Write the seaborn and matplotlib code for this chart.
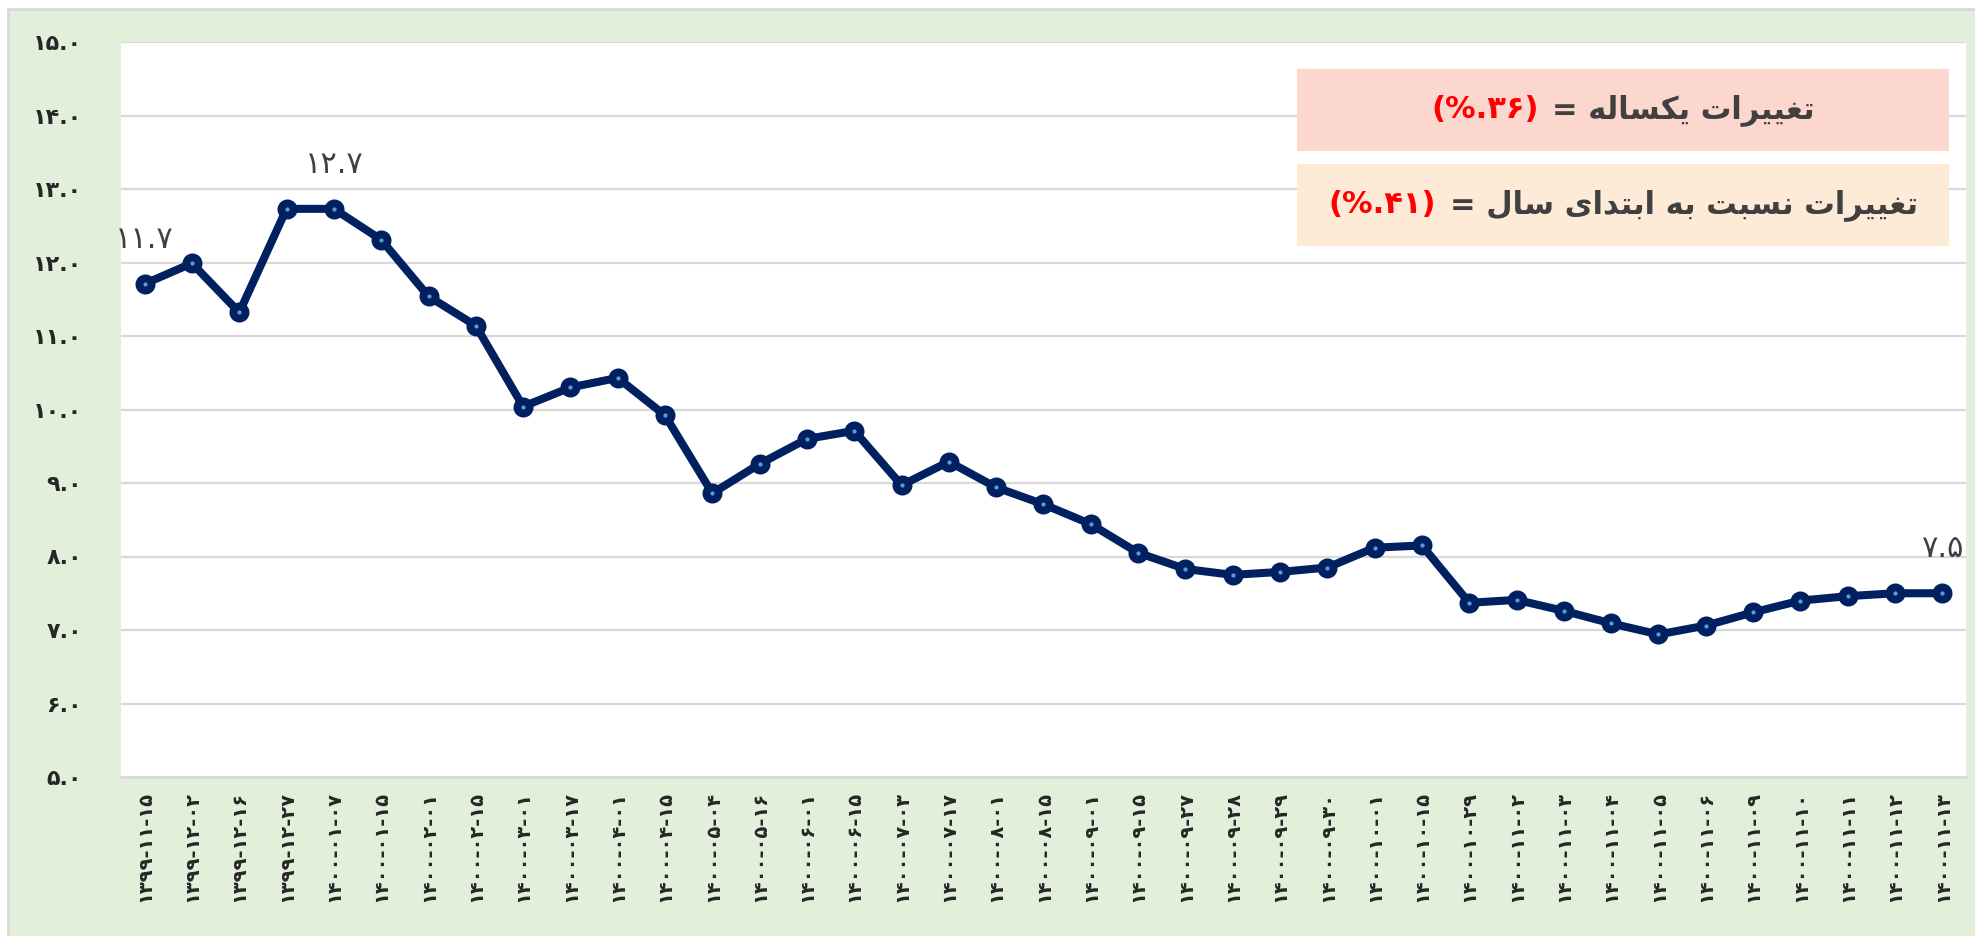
import numpy as np
import pandas as pd
import seaborn as sns
import matplotlib.pyplot as plt
from matplotlib.patches import Rectangle
from matplotlib.offsetbox import TextArea, HPacker, AnnotationBbox

# dates (jalali) and values
dates = ['1399-11-15', '1399-12-02', '1399-12-16', '1399-12-27', '1400-01-07',
         '1400-01-15', '1400-02-01', '1400-02-15', '1400-03-01', '1400-03-17',
         '1400-04-01', '1400-04-15', '1400-05-04', '1400-05-16', '1400-06-01',
         '1400-06-15', '1400-07-03', '1400-07-17', '1400-08-01', '1400-08-15',
         '1400-09-01', '1400-09-15', '1400-09-27', '1400-09-28', '1400-09-29',
         '1400-09-30', '1400-10-01', '1400-10-15', '1400-10-29', '1400-11-02',
         '1400-11-03', '1400-11-04', '1400-11-05', '1400-11-06', '1400-11-09',
         '1400-11-10', '1400-11-11', '1400-11-12', '1400-11-13']
values = [11.71, 11.99, 11.32, 12.73, 12.73, 12.31, 11.54, 11.14, 10.04, 10.30,
          10.43, 9.92, 8.86, 9.26, 9.60, 9.71, 8.97, 9.29, 8.94, 8.71,
          8.44, 8.05, 7.83, 7.75, 7.79, 7.85, 8.12, 8.15, 7.37, 7.41,
          7.26, 7.09, 6.94, 7.06, 7.24, 7.40, 7.46, 7.50, 7.50]
labelled = [0, 4, 38]

yearly_change = '36'
ytd_change = '41'
title_yearly = 'تغییرات یکساله ='
title_ytd = 'تغییرات نسبت به ابتدای سال ='

FA_DIGITS = str.maketrans('0123456789', '۰۱۲۳۴۵۶۷۸۹')


def fa(s):
    return str(s).translate(FA_DIGITS)


# minimal persian shaping (iso, fin, ini, med) since matplotlib doesn't do it
FORMS = {
    'ا': ('\uFE8D', '\uFE8E', None, None),
    'ب': ('\uFE8F', '\uFE90', '\uFE91', '\uFE92'),
    'ت': ('\uFE95', '\uFE96', '\uFE97', '\uFE98'),
    'د': ('\uFEA9', '\uFEAA', None, None),
    'ر': ('\uFEAD', '\uFEAE', None, None),
    'س': ('\uFEB1', '\uFEB2', '\uFEB3', '\uFEB4'),
    'غ': ('\uFECD', '\uFECE', '\uFECF', '\uFED0'),
    'ل': ('\uFEDD', '\uFEDE', '\uFEDF', '\uFEE0'),
    'ن': ('\uFEE5', '\uFEE6', '\uFEE7', '\uFEE8'),
    'ه': ('\uFEE9', '\uFEEA', '\uFEEB', '\uFEEC'),
    'ک': ('\uFB8E', '\uFB8F', '\uFB90', '\uFB91'),
    'ی': ('\uFBFC', '\uFBFD', '\uFBFE', '\uFBFF'),
}


def shape_fa(text):
    out = []
    for i, ch in enumerate(text):
        if ch not in FORMS:
            out.append(ch)
            continue
        iso, fin, ini, med = FORMS[ch]
        prev = text[i - 1] if i > 0 else ''
        nxt = text[i + 1] if i + 1 < len(text) else ''
        join_prev = prev in FORMS and FORMS[prev][2] is not None
        join_next = ini is not None and nxt in FORMS
        if join_prev and join_next:
            out.append(med)
        elif join_prev:
            out.append(fin)
        elif join_next:
            out.append(ini)
        else:
            out.append(iso)
    return ''.join(reversed(out))


NAVY = '#002060'
GREEN = '#E2EFDA'
GRID = '#D9D9D9'

sns.set_style('white')
plt.rcParams['font.family'] = ['DejaVu Sans']

W, H = 1975, 936
fig = plt.figure(figsize=(W / 100, H / 100), dpi=100, facecolor='white')
fig.patches.append(Rectangle((8 / W, -0.05), 1.1, 1.05 - 9 / H, transform=fig.transFigure,
                             facecolor=GREEN, edgecolor=GRID, linewidth=2, zorder=-10))
ax = fig.add_axes([121 / W, (H - 777) / H, (1966 - 121) / W, (777 - 42) / H])
ax.set_facecolor('white')

df = pd.DataFrame({'pos': np.arange(len(dates)), 'value': values})
sns.lineplot(data=df, x='pos', y='value', ax=ax, color=NAVY, linewidth=5.8,
             marker='o', markersize=8.8, markeredgewidth=5.6,
             markeredgecolor=NAVY, markerfacecolor='#5B9BD5', zorder=3)

ax.set_xlim(-0.5, len(dates) - 0.5)
ax.set_ylim(5, 15)
yt = np.arange(5, 15.5, 1)
ax.set_yticks(yt)
ax.set_yticklabels([fa(f'{v:.1f}') for v in yt], fontsize=16, fontweight='bold', color='#262626')
ax.set_xticks(df['pos'])
ax.set_xticklabels([fa(d) for d in dates], rotation=90, fontsize=14, fontweight='bold',
                   color='#262626')
ax.tick_params(axis='y', length=0, pad=28)
ax.tick_params(axis='x', length=0, pad=10)
ax.set_xlabel('')
ax.set_ylabel('')
ax.yaxis.grid(True, color=GRID, linewidth=1.6)
ax.set_axisbelow(True)
for side in ['left', 'right', 'top']:
    ax.spines[side].set_visible(False)
ax.spines['bottom'].set_color(GRID)
ax.spines['bottom'].set_linewidth(2)

for i in labelled:
    ax.annotate(fa(f'{values[i]:.1f}'), (i, values[i]), xytext=(0, 32),
                textcoords='offset points', ha='center', va='center',
                fontsize=22, color='#404040')

# change boxes
boxes = [(title_yearly, yearly_change, '#FBD7CE', 0.8517, 0.9633),
         (title_ytd, ytd_change, '#FDEBD7', 0.7224, 0.834)]
x0, x1 = 0.6374, 0.9908
for title, pct, fc, b, t in boxes:
    ax.add_patch(Rectangle((x0, b), x1 - x0, t - b, transform=ax.transAxes,
                           facecolor=fc, edgecolor='none', zorder=2))
    red = TextArea('(%.' + fa(pct) + ')',
                   textprops=dict(color='#FF0000', fontsize=22, fontweight='bold'))
    black = TextArea(shape_fa(title),
                     textprops=dict(color='#404040', fontsize=22, fontweight='bold'))
    pack = HPacker(children=[red, black], align='baseline', pad=0, sep=10)
    ab = AnnotationBbox(pack, ((x0 + x1) / 2, (b + t) / 2), xycoords='axes fraction',
                        frameon=False, box_alignment=(0.5, 0.5), zorder=4)
    ax.add_artist(ab)

fig.savefig('out.png', dpi=100, facecolor='white')
